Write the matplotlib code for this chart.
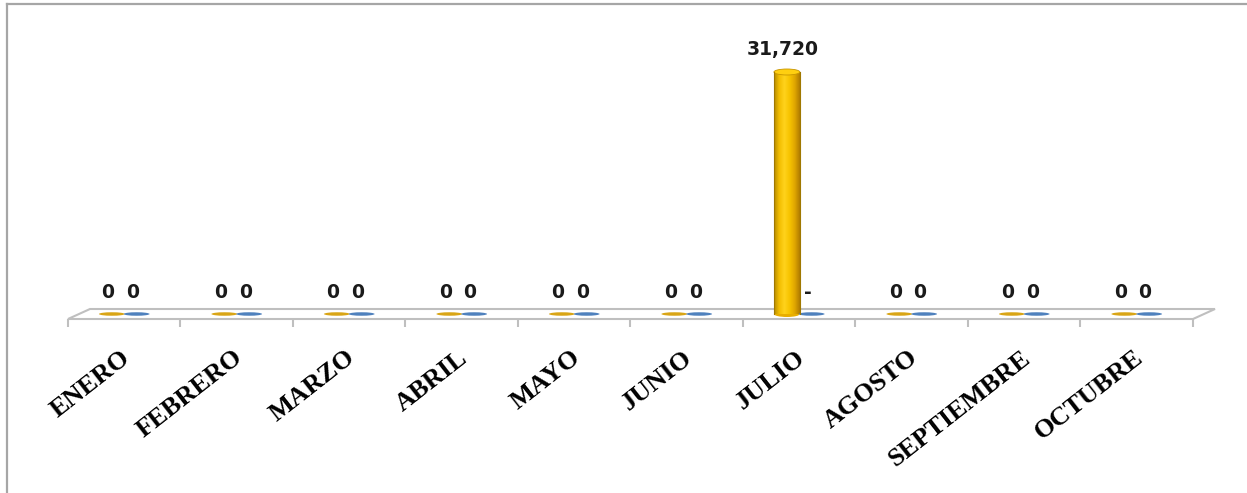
import numpy as np
import matplotlib.pyplot as plt
from matplotlib.colors import LinearSegmentedColormap
from matplotlib.patches import Ellipse, Polygon
from matplotlib.lines import Line2D

# ---- Data ----
meses = ["ENERO", "FEBRERO", "MARZO", "ABRIL", "MAYO",
         "JUNIO", "JULIO", "AGOSTO", "SEPTIEMBRE", "OCTUBRE"]
serie_a = [0, 0, 0, 0, 0, 0, 31720, 0, 0, 0]
serie_b = [0, 0, 0, 0, 0, 0, 0, 0, 0, 0]
etiq_a = ["0", "0", "0", "0", "0", "0", "31,720", "0", "0", "0"]
etiq_b = ["0", "0", "0", "0", "0", "0", "-", "0", "0", "0"]

W, H = 1247, 493
fig = plt.figure(figsize=(W / 100, H / 100), dpi=100)
ax = fig.add_axes([0, 0, 1, 1])
ax.axis("off")

# pixel geometry -> data units
cat_px = 112.5          # width of one category in pixels
x0_px = 68              # left edge of floor front
zero_px = 314           # baseline (from top)
k = 31720 / (zero_px - 72)   # value per pixel
ax.set_xlim(-x0_px / cat_px, (W - x0_px) / cat_px)
ax.set_ylim(-(H - zero_px) * k, zero_px * k)

n = len(meses)
x = np.arange(n) + 0.5
dx = 22 / cat_px

# ---- Floor ----
floor = Polygon([(0, -5 * k), (n, -5 * k), (n + dx, 5 * k), (dx, 5 * k)],
                closed=True, facecolor="white", edgecolor="#bfbfbf", lw=1.5, zorder=1)
ax.add_patch(floor)
ax.vlines(np.arange(n + 1), -13 * k, -5 * k, color="#bfbfbf", lw=1.5, zorder=1)

# ---- Bars ----
w = 0.23
off = 0.11
col_a = "#d9a516"
col_b = "#4f81bd"
cmap = LinearSegmentedColormap.from_list(
    "cil", ["#b58a00", "#f2be00", "#ffd21c", "#f7c400", "#e0a600", "#b07c00"])
grad = np.linspace(0, 1, 256).reshape(1, -1)

bars_a = ax.bar(x - off, serie_a, w, color="none", edgecolor="none", zorder=3)
bars_b = ax.bar(x + off, serie_b, w, color="none", edgecolor="none", zorder=3)

for bar, v in zip(bars_a, serie_a):
    cx = bar.get_x() + bar.get_width() / 2
    if v > 0:
        im = ax.imshow(grad, cmap=cmap, aspect="auto", zorder=3,
                       extent=(bar.get_x(), bar.get_x() + bar.get_width(), 0, v))
        im.set_clip_path(bar)
        ax.add_patch(Ellipse((cx, 0), bar.get_width(), 6 * k, facecolor="#e8ae00",
                             edgecolor="none", zorder=2.9))
        ax.add_patch(Ellipse((cx, v), bar.get_width(), 6 * k, facecolor="#ffcf10",
                             edgecolor="#c79500", lw=0.6, zorder=4))
        ax.plot([bar.get_x(), bar.get_x()], [0, v], color="#a07800", lw=0.8, zorder=4)
        ax.plot([bar.get_x() + bar.get_width()] * 2, [0, v], color="#a07800", lw=0.8, zorder=4)
    else:
        ax.add_patch(Ellipse((cx, 0), bar.get_width(), 3.5 * k, facecolor=col_a,
                             edgecolor="none", zorder=3))

for bar, v in zip(bars_b, serie_b):
    cx = bar.get_x() + bar.get_width() / 2
    ax.add_patch(Ellipse((cx, v), bar.get_width(), 3.5 * k, facecolor=col_b,
                         edgecolor="none", zorder=3))

# ---- Value labels ----
for bars, vals, labs in ((bars_a, serie_a, etiq_a), (bars_b, serie_b, etiq_b)):
    for bar, v, lab in zip(bars, vals, labs):
        cx = bar.get_x() + bar.get_width() / 2
        ax.annotate(lab, (cx, v), xytext=(-4, 22), textcoords="offset pixels",
                    ha="center", va="center", fontsize=13.5, fontweight="bold",
                    family="DejaVu Sans", color="#1a1a1a", zorder=5)

# ---- Category labels ----
for xi, m in zip(x, meses):
    ax.annotate(m, (xi, -5 * k), xytext=(-4, -27), textcoords="offset pixels",
                rotation=38, rotation_mode="anchor", ha="right", va="top",
                fontsize=19, fontweight="bold", family="Liberation Serif",
                color="black")

# ---- Frame ----
fig.add_artist(Line2D([7 / W, 7 / W], [0, 1 - 4 / H], color="#a6a6a6", lw=1.6))
fig.add_artist(Line2D([7 / W, 1], [1 - 4 / H, 1 - 4 / H], color="#a6a6a6", lw=1.6))

fig.savefig("out.png", dpi=100)
